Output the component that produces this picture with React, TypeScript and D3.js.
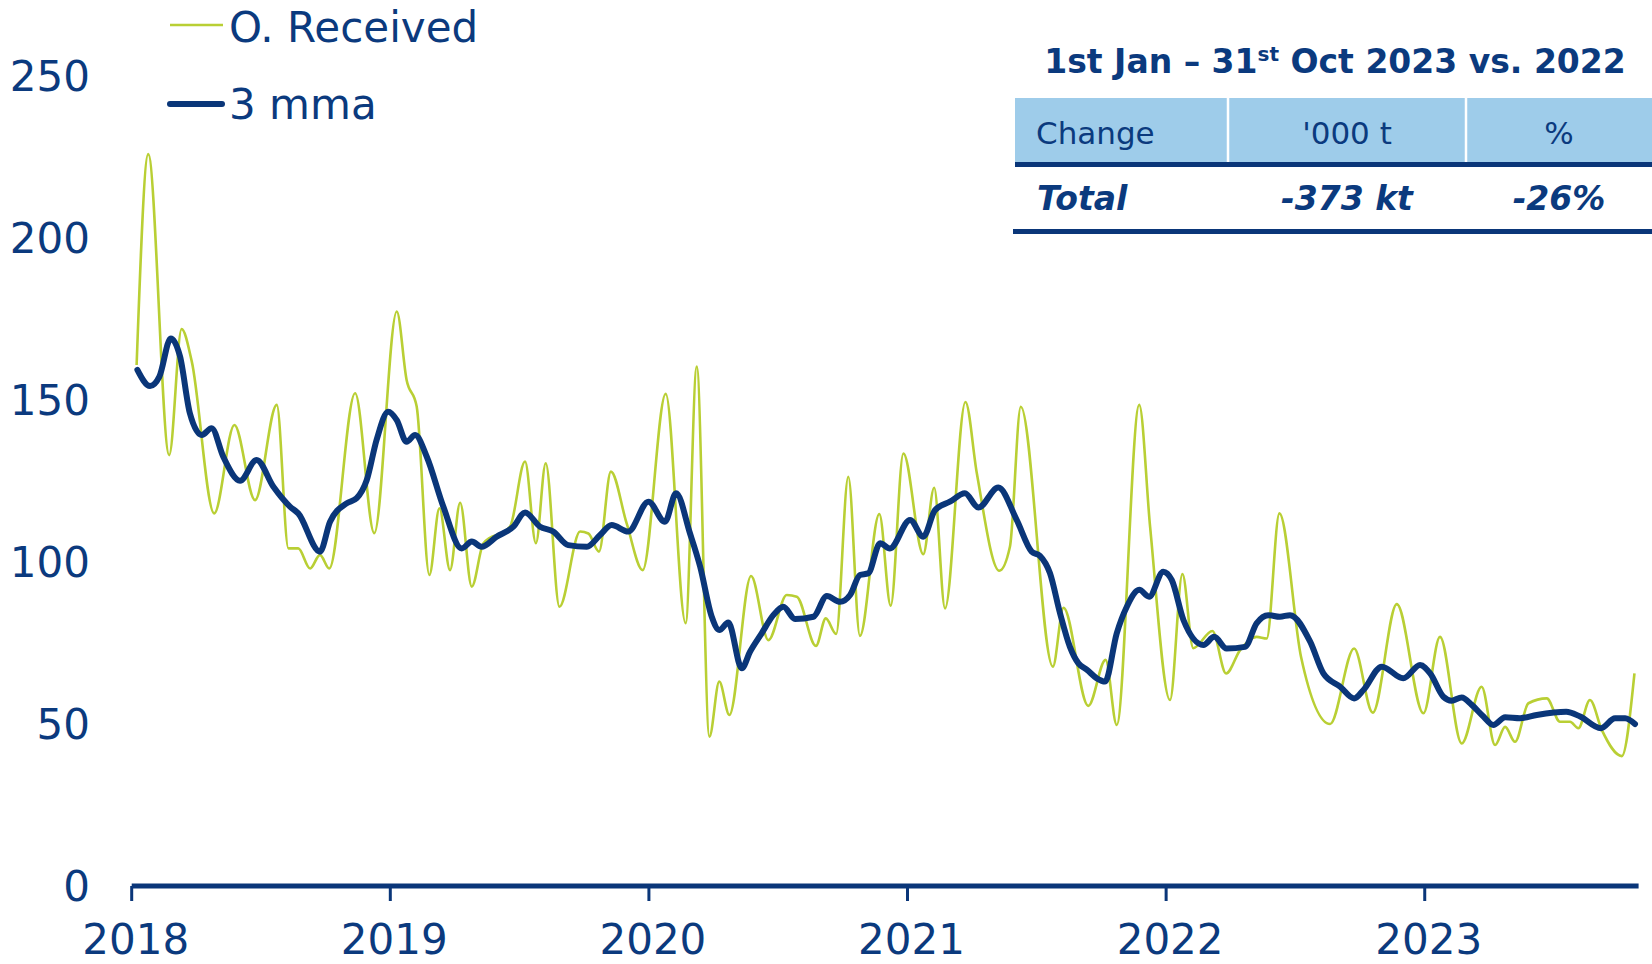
import React from "react";
import * as d3 from "d3";

// ---- data (decimal year, '000 t) ----
const receivedT = [
  2018.019, 2018.064, 2018.145, 2018.193, 2018.232, 2018.319, 2018.397, 2018.477, 2018.561, 2018.606,
  2018.644, 2018.690, 2018.728, 2018.764, 2018.864, 2018.938, 2019.025, 2019.063, 2019.102, 2019.151,
  2019.190, 2019.231, 2019.270, 2019.315, 2019.360, 2019.463, 2019.521, 2019.563, 2019.601, 2019.654,
  2019.734, 2019.766, 2019.807, 2019.853, 2019.914, 2019.976, 2020.065, 2020.142, 2020.185, 2020.234,
  2020.272, 2020.311, 2020.395, 2020.462, 2020.533, 2020.572, 2020.646, 2020.684, 2020.724, 2020.771,
  2020.816, 2020.891, 2020.935, 2020.984, 2021.061, 2021.103, 2021.145, 2021.224, 2021.268, 2021.355,
  2021.396, 2021.438, 2021.562, 2021.603, 2021.699, 2021.766, 2021.809, 2021.896, 2021.938, 2022.015,
  2022.063, 2022.105, 2022.179, 2022.232, 2022.286, 2022.350, 2022.389, 2022.438, 2022.522, 2022.634,
  2022.727, 2022.799, 2022.892, 2022.995, 2023.059, 2023.143, 2023.220, 2023.272, 2023.311, 2023.349,
  2023.401, 2023.472, 2023.523, 2023.562, 2023.594, 2023.639, 2023.685, 2023.762, 2023.811,
];
const receivedV = [
  160.8, 225.9, 133.0, 171.9, 162.0, 115.0, 142.3, 119.1, 148.5, 104.2,
  104.2, 98.0, 102.2, 98.0, 152.1, 108.9, 177.3, 156.2, 148.0, 96.0,
  116.6, 97.5, 118.3, 92.4, 105.8, 110.9, 131.0, 105.8, 130.5, 86.2,
  109.4, 108.8, 103.2, 127.9, 111.9, 97.5, 151.9, 81.1, 160.3, 46.1,
  63.1, 52.8, 95.7, 75.9, 89.8, 89.3, 74.1, 82.6, 77.8, 126.3,
  77.2, 114.8, 86.5, 133.5, 102.4, 122.9, 85.7, 149.4, 127.4, 97.3,
  104.7, 147.9, 67.7, 85.9, 55.6, 69.8, 49.7, 148.5, 110.9, 57.4,
  96.3, 73.4, 78.7, 65.6, 72.8, 76.9, 76.4, 115.0, 70.6, 50.0,
  73.3, 53.5, 87.0, 53.3, 76.9, 44.0, 61.5, 43.5, 49.1, 44.5,
  56.4, 57.9, 50.7, 50.7, 48.7, 57.4, 48.1, 40.1, 65.6,
];

const mmaT = [
  2018.022, 2018.071, 2018.107, 2018.151, 2018.187, 2018.225, 2018.271, 2018.309, 2018.354, 2018.419,
  2018.483, 2018.548, 2018.612, 2018.644, 2018.728, 2018.767, 2018.831, 2018.870, 2018.909, 2018.947,
  2018.992, 2019.025, 2019.063, 2019.096, 2019.141, 2019.205, 2019.276, 2019.315, 2019.353, 2019.411,
  2019.476, 2019.521, 2019.579, 2019.630, 2019.688, 2019.760, 2019.811, 2019.856, 2019.920, 2019.998,
  2020.062, 2020.105, 2020.159, 2020.198, 2020.243, 2020.272, 2020.307, 2020.359, 2020.391, 2020.436,
  2020.481, 2020.520, 2020.565, 2020.636, 2020.688, 2020.739, 2020.778, 2020.816, 2020.848, 2020.894,
  2020.932, 2021.010, 2021.061, 2021.106, 2021.164, 2021.222, 2021.274, 2021.351, 2021.422, 2021.480,
  2021.512, 2021.551, 2021.590, 2021.628, 2021.661, 2021.693, 2021.732, 2021.764, 2021.809, 2021.848,
  2021.896, 2021.934, 2021.989, 2022.022, 2022.067, 2022.144, 2022.186, 2022.234, 2022.305, 2022.350,
  2022.395, 2022.440, 2022.479, 2022.557, 2022.608, 2022.673, 2022.727, 2022.763, 2022.834, 2022.917,
  2022.982, 2023.021, 2023.072, 2023.104, 2023.143, 2023.182, 2023.227, 2023.265, 2023.311, 2023.369,
  2023.433, 2023.547, 2023.601, 2023.681, 2023.736, 2023.775, 2023.813,
];
const mmaV = [
  159.3, 154.3, 157.2, 169.0, 163.4, 145.9, 139.2, 141.3, 132.5, 125.1,
  131.5, 123.2, 117.1, 115.0, 103.2, 112.4, 118.1, 119.7, 125.3, 137.7,
  146.4, 143.8, 137.1, 139.2, 132.5, 117.1, 104.2, 106.3, 104.7, 107.8,
  110.9, 115.3, 110.9, 109.4, 105.2, 104.7, 108.3, 111.4, 109.4, 118.6,
  112.4, 121.2, 108.8, 98.6, 83.1, 79.0, 81.3, 67.2, 72.3, 78.0,
  83.6, 86.2, 82.4, 83.1, 89.5, 87.7, 89.8, 96.0, 96.5, 105.8,
  104.2, 113.0, 107.8, 116.0, 118.6, 121.2, 116.8, 123.0, 113.0, 103.2,
  101.9, 96.5, 84.1, 73.8, 68.7, 66.8, 64.1, 63.1, 78.0, 86.2,
  91.4, 89.3, 97.0, 94.4, 82.1, 74.4, 76.9, 73.3, 73.8, 81.1,
  83.6, 83.1, 83.6, 75.4, 65.6, 61.5, 57.9, 60.5, 67.7, 64.1,
  68.2, 65.6, 58.4, 57.2, 58.2, 55.9, 52.3, 49.7, 52.1, 51.8,
  52.8, 53.8, 52.3, 48.7, 51.8, 51.8, 50.0,
];

const yearTicks = [2018, 2019, 2020, 2021, 2022, 2023];
const yTicks = [0, 50, 100, 150, 200, 250];
const seriesNames = ["O. Received", "3 mma"];
const tableTitle = ["1st Jan \u2013 31", "st", " Oct 2023 vs. 2022"];
const tableHeader = ["Change", "'000 t", "%"];
const tableRow = ["Total", "-373 kt", "-26%"];

const NAVY = "#0A3679";
const TEXT = "#0B3A7E";
const GREEN = "#B9CF34";
const BAND = "#9ECCEA";
const FONT = "'DejaVu Sans', Verdana, sans-serif";

export default function App() {
  const W = 1652;
  const H = 964;
  const x = d3.scaleLinear().domain([2018, 2023.827]).range([131.7, 1638.6]);
  const y = d3.scaleLinear().domain([0, 250]).range([886, 76]);

  const recv = receivedT.map((t, i) => [t, receivedV[i]] as [number, number]);
  const mma = mmaT.map((t, i) => [t, mmaV[i]] as [number, number]);
  const line = d3
    .line<[number, number]>()
    .x((d) => x(d[0]))
    .y((d) => y(d[1]))
    .curve(d3.curveMonotoneX);

  const colX = [1015, 1228, 1466, 1652];

  return (
    <svg
      width={W}
      height={H}
      viewBox={`0 0 ${W} ${H}`}
      style={{ position: "absolute", left: 0, top: 0, display: "block", background: "#fff" }}
      fontFamily={FONT}
    >
      <rect x={0} y={0} width={W} height={H} fill="#fff" />

      {/* y tick labels */}
      {yTicks.map((v) => (
        <text key={v} x={90} y={y(v)} dy="0.36em" textAnchor="end" fontSize={42} fill={TEXT}>
          {v}
        </text>
      ))}

      {/* series */}
      <path d={line(recv) || ""} fill="none" stroke={GREEN} strokeWidth={2.6} strokeLinejoin="round" />
      <path
        d={line(mma) || ""}
        fill="none"
        stroke={NAVY}
        strokeWidth={6}
        strokeLinejoin="round"
        strokeLinecap="round"
      />

      {/* x axis */}
      <line x1={x(2018)} x2={x.range()[1]} y1={y(0)} y2={y(0)} stroke={NAVY} strokeWidth={5} />
      {yearTicks.map((yr) => (
        <g key={yr}>
          <line x1={x(yr)} x2={x(yr)} y1={y(0)} y2={y(0) + 15} stroke={NAVY} strokeWidth={3} />
          <text x={x(yr) + 4} y={954} textAnchor="middle" fontSize={42} fill={TEXT}>
            {yr}
          </text>
        </g>
      ))}

      {/* legend */}
      <line x1={170} x2={223} y1={25} y2={25} stroke={GREEN} strokeWidth={2.6} />
      <text x={229} y={41.5} fontSize={42} fill={TEXT}>
        {seriesNames[0]}
      </text>
      <line x1={170} x2={222} y1={104} y2={104} stroke={NAVY} strokeWidth={6} strokeLinecap="round" />
      <text x={229} y={118.5} fontSize={42} fill={TEXT}>
        {seriesNames[1]}
      </text>

      {/* table */}
      <text x={1335} y={73} textAnchor="middle" fontSize={33} fontWeight="bold" fill={TEXT}>
        {tableTitle[0]}
        <tspan dy={-12} fontSize={20}>
          {tableTitle[1]}
        </tspan>
        <tspan dy={12}>{tableTitle[2]}</tspan>
      </text>
      <rect x={colX[0]} y={98} width={colX[3] - colX[0]} height={64} fill={BAND} />
      <line x1={colX[1]} x2={colX[1]} y1={98} y2={162} stroke="#fff" strokeWidth={2.5} />
      <line x1={colX[2]} x2={colX[2]} y1={98} y2={162} stroke="#fff" strokeWidth={2.5} />
      <line x1={colX[0]} x2={colX[3]} y1={164.5} y2={164.5} stroke={NAVY} strokeWidth={5} />
      <text x={1036} y={144} fontSize={31} fill={TEXT}>
        {tableHeader[0]}
      </text>
      <text x={(colX[1] + colX[2]) / 2} y={144} textAnchor="middle" fontSize={31} fill={TEXT}>
        {tableHeader[1]}
      </text>
      <text x={(colX[2] + colX[3]) / 2} y={144} textAnchor="middle" fontSize={31} fill={TEXT}>
        {tableHeader[2]}
      </text>
      <text x={1037} y={210} fontSize={33} fontWeight="bold" fontStyle="italic" fill={TEXT}>
        {tableRow[0]}
      </text>
      <text
        x={(colX[1] + colX[2]) / 2}
        y={210}
        textAnchor="middle"
        fontSize={33}
        fontWeight="bold"
        fontStyle="italic"
        fill={TEXT}
      >
        {tableRow[1]}
      </text>
      <text
        x={(colX[2] + colX[3]) / 2}
        y={210}
        textAnchor="middle"
        fontSize={33}
        fontWeight="bold"
        fontStyle="italic"
        fill={TEXT}
      >
        {tableRow[2]}
      </text>
      <line x1={1013} x2={colX[3]} y1={231.5} y2={231.5} stroke={NAVY} strokeWidth={5} />
    </svg>
  );
}
